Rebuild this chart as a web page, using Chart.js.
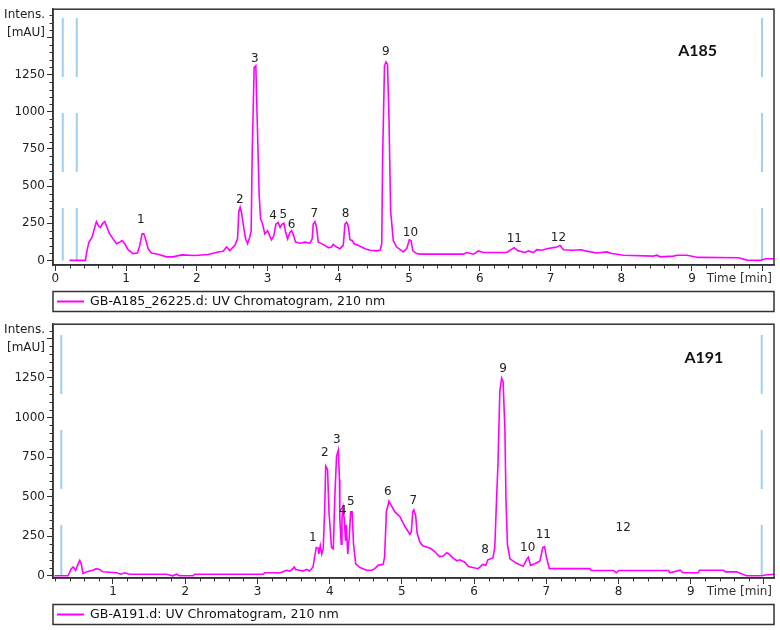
<!DOCTYPE html>
<html>
<head>
<meta charset="utf-8">
<script src="https://cdn.jsdelivr.net/npm/chart.js@4.4.1/dist/chart.umd.min.js"></script>
<style>
    html, body { margin: 0; padding: 0; background: #fff; }
    #contenedor { position: relative; width: 780px; height: 630px; }
    canvas { position: absolute; left: 0; }
    #grafico185 { top: 0; }
    #grafico191 { top: 315px; }
</style>
</head>
<body>
<div id="contenedor">
    <canvas id="grafico185" width="780" height="315"></canvas>
    <canvas id="grafico191" width="780" height="315"></canvas>
</div>
<script>
var a185Tiempo = [
    0.20, 0.425, 0.447, 0.475, 0.518, 0.556, 0.580, 0.608, 0.637, 0.665,
    0.698, 0.730, 0.768, 0.815, 0.863, 0.910, 0.942, 0.981, 1.027, 1.098,
    1.160, 1.193, 1.225, 1.249, 1.274, 1.310, 1.358, 1.452, 1.571, 1.664,
    1.783, 1.971, 2.159, 2.301, 2.372, 2.420, 2.466, 2.537, 2.575, 2.594,
    2.612, 2.632, 2.655, 2.689, 2.717, 2.750, 2.768, 2.782, 2.810, 2.834,
    2.853, 2.881, 2.901, 2.923, 2.962, 3.000, 3.028, 3.056, 3.089, 3.117,
    3.150, 3.178, 3.206, 3.231, 3.255, 3.283, 3.315, 3.339, 3.368, 3.396,
    3.457, 3.528, 3.598, 3.631, 3.645, 3.669, 3.693, 3.716, 3.787, 3.857,
    3.905, 3.928, 3.976, 4.023, 4.070, 4.094, 4.118, 4.140, 4.164, 4.197,
    4.225, 4.282, 4.330, 4.377, 4.447, 4.542, 4.594, 4.614, 4.627, 4.653,
    4.674, 4.695, 4.716, 4.740, 4.777, 4.825, 4.919, 4.967, 5.004, 5.028,
    5.052, 5.108, 5.155, 5.768, 5.816, 5.909, 5.980, 6.051, 6.382, 6.485,
    6.546, 6.641, 6.688, 6.758, 6.806, 6.877, 6.948, 7.041, 7.089, 7.136,
    7.183, 7.302, 7.443, 7.490, 7.655, 7.797, 7.868, 8.032, 8.456, 8.504,
    8.551, 8.739, 8.787, 8.929, 9.093, 9.659, 9.778, 9.966, 10.037, 10.17
];
var a185Intensidad = [
    0, 0, 68, 123, 156, 222, 261, 233, 222, 248,
    261, 222, 178, 145, 112, 123, 134, 112, 72, 46,
    50, 101, 178, 180, 145, 79, 50, 42, 24, 24,
    37, 33, 40, 57, 62, 90, 66, 101, 145, 332,
    358, 321, 244, 145, 112, 160, 200, 706, 1300, 1310,
    948, 442, 277, 255, 178, 200, 167, 139, 167, 244,
    255, 222, 244, 250, 189, 145, 189, 200, 167, 123,
    116, 123, 116, 145, 244, 261, 222, 123, 108, 86,
    90, 108, 90, 79, 101, 244, 257, 233, 139, 134,
    112, 101, 90, 79, 68, 64, 70, 114, 706, 1310,
    1335, 1320, 970, 332, 134, 90, 57, 79, 139, 134,
    66, 46, 42, 42, 53, 42, 64, 53, 53, 86,
    64, 53, 64, 53, 72, 68, 79, 86, 90, 101,
    72, 68, 72, 64, 50, 57, 46, 35, 29, 35,
    24, 29, 35, 35, 20, 18, 2, 0, 11, 11
];

var a191Tiempo = [
    0.19, 0.377, 0.424, 0.45, 0.483, 0.515, 0.54, 0.56, 0.585, 0.64,
    0.72, 0.77, 0.815, 0.86, 1.05, 1.11, 1.16, 1.23, 1.74, 1.83,
    1.88, 1.92, 2.11, 2.13, 3.08, 3.10, 3.31, 3.355, 3.40, 3.45,
    3.49, 3.51, 3.53, 3.585, 3.63, 3.68, 3.72, 3.77, 3.79, 3.815,
    3.84, 3.85, 3.87, 3.89, 3.91, 3.93, 3.945, 3.97, 3.99, 4.025,
    4.05, 4.07, 4.095, 4.12, 4.135, 4.14, 4.16, 4.17, 4.185, 4.20,
    4.22, 4.23, 4.25, 4.27, 4.29, 4.31, 4.33, 4.36, 4.42, 4.51,
    4.58, 4.625, 4.67, 4.74, 4.76, 4.785, 4.82, 4.85, 4.90, 4.97,
    5.04, 5.11, 5.13, 5.15, 5.165, 5.19, 5.21, 5.25, 5.29, 5.36,
    5.40, 5.45, 5.52, 5.57, 5.62, 5.65, 5.70, 5.76, 5.80, 5.87,
    5.92, 6.055, 6.12, 6.16, 6.19, 6.26, 6.285, 6.31, 6.33, 6.355,
    6.38, 6.40, 6.425, 6.44, 6.46, 6.495, 6.56, 6.60, 6.68, 6.73,
    6.75, 6.78, 6.84, 6.91, 6.95, 6.975, 7.00, 7.04, 7.60, 7.62,
    7.93, 7.97, 8.00, 8.69, 8.71, 8.85, 8.89, 9.10, 9.12, 9.45,
    9.48, 9.63, 9.77, 9.98, 10.03, 10.16
];
var a191Intensidad = [
    0, 0, 45, 56, 35, 72, 97, 76, 15, 25,
    35, 45, 40, 25, 19, 10, 19, 10, 10, 0,
    10, 0, 0, 10, 10, 19, 19, 25, 35, 30,
    45, 56, 40, 35, 30, 40, 30, 56, 117, 179,
    175, 138, 190, 138, 170, 405, 693, 672, 405, 179,
    170, 487, 755, 796, 610, 364, 200, 364, 425, 364,
    220, 323, 138, 240, 405, 405, 200, 76, 52, 35,
    35, 45, 66, 72, 117, 405, 471, 446, 405, 375,
    313, 262, 280, 405, 416, 380, 270, 210, 190, 179,
    172, 155, 121, 125, 146, 138, 115, 95, 101, 86,
    58, 45, 72, 66, 101, 113, 179, 487, 714, 1166,
    1249, 1228, 930, 487, 200, 107, 86, 76, 60, 107,
    117, 66, 76, 93, 179, 183, 117, 45, 45, 33,
    33, 19, 33, 33, 19, 35, 19, 19, 35, 35,
    25, 25, 0, 0, 5, 10
];

// Etiquetas de picos (posicion del numero en tiempo / intensidad)
var nombresPicos = ['1', '2', '3', '4', '5', '6', '7', '8', '9', '10', '11', '12'];
var a185PicoTiempo = [1.207, 2.608, 2.820, 3.079, 3.221, 3.339, 3.659, 4.104, 4.670, 5.020, 6.489, 7.112];
var a185PicoIntensidad = [273, 405, 1359, 299, 306, 240, 314, 310, 1406, 182, 147, 154];
var a191PicoTiempo = [3.767, 3.933, 4.099, 4.182, 4.293, 4.806, 5.156, 6.150, 6.399, 6.741, 6.957, 8.062];
var a191PicoIntensidad = [239, 776, 856, 411, 467, 530, 473, 165, 1306, 177, 257, 300];

// Marcas verticales azules (min)
var a185Marcas = [0.104, 0.302, 9.99];
var a191Marcas = [0.285, 9.98];

function esEntero(v) {
    return Math.abs(v - Math.round(v)) < 1e-6;
}

function esMayorY(v) {
    return Math.abs(v % 250) < 1e-6;
}

// Crea un cromatograma con su marco, etiquetas y caja de leyenda
function crearCromatograma(idCanvas, cfg) {
    var ctx = document.getElementById(idCanvas).getContext('2d');
    var puntos = cfg.tiempos.map(function (t, i) {
        return { x: t, y: cfg.intensidades[i] };
    });

    var datasets = [{
        label: cfg.leyenda,
        data: puntos,
        borderColor: '#ff00ff',
        borderWidth: 1.6,
        pointRadius: 0,
        tension: 0
    }];
    cfg.marcas.forEach(function (m) {
        datasets.push({
            label: '',
            data: [{ x: m, y: cfg.marcaTope }, { x: m, y: 0 }],
            borderColor: '#9fcff2',
            borderWidth: 2,
            borderDash: [59, 36],
            pointRadius: 0
        });
    });

    var fuente = 'DejaVu Sans';

    var pluginCromatograma = {
        id: 'cromatograma',
        afterDraw: function (chart) {
            var c = chart.ctx;
            var area = chart.chartArea;
            var xs = chart.scales.x;
            var ys = chart.scales.y;
            c.save();

            // Marcas menores de los ejes
            c.strokeStyle = '#333';
            c.lineWidth = 1;
            c.beginPath();
            xs.ticks.forEach(function (t) {
                if (!esEntero(t.value)) {
                    var px = Math.round(xs.getPixelForValue(t.value)) + 0.5;
                    c.moveTo(px, area.bottom);
                    c.lineTo(px, area.bottom + 3.5);
                }
            });
            ys.ticks.forEach(function (t) {
                if (!esMayorY(t.value)) {
                    var py = Math.round(ys.getPixelForValue(t.value)) + 0.5;
                    c.moveTo(area.left, py);
                    c.lineTo(area.left - 3.5, py);
                }
            });
            c.stroke();

            // Marco del area de trazado
            c.strokeStyle = '#333';
            c.lineWidth = 1.5;
            c.strokeRect(area.left, area.top, area.right - area.left, area.bottom - area.top);

            // Numeros de los picos
            c.fillStyle = '#222';
            c.font = '12px "' + fuente + '"';
            c.textAlign = 'center';
            c.textBaseline = 'middle';
            cfg.picoTiempo.forEach(function (t, i) {
                c.fillText(nombresPicos[i], xs.getPixelForValue(t), ys.getPixelForValue(cfg.picoIntensidad[i]));
            });

            // Nombre de la muestra
            c.fillStyle = '#111';
            c.font = 'bold 16px Lato';
            c.fillText(cfg.muestra, xs.getPixelForValue(cfg.muestraEn[0]), ys.getPixelForValue(cfg.muestraEn[1]));

            // Titulos de los ejes
            c.font = '12px "' + fuente + '"';
            c.fillStyle = '#222';
            c.textAlign = 'right';
            c.fillText('Intens.', area.left - 8, area.top + 6);
            c.fillText('[mAU]', area.left - 8, area.top + 24);
            c.fillStyle = '#333';
            c.fillText('Time [min]', area.right - 2, area.bottom + 14);

            // Caja de leyenda
            var ds = chart.data.datasets[0];
            var arriba = area.bottom + 26.5;
            c.strokeStyle = '#333';
            c.lineWidth = 1.5;
            c.strokeRect(area.left, arriba, area.right - area.left, 20);
            c.strokeStyle = ds.borderColor;
            c.lineWidth = 2;
            c.beginPath();
            c.moveTo(area.left + 4, arriba + 10);
            c.lineTo(area.left + 31, arriba + 10);
            c.stroke();
            c.fillStyle = '#111';
            c.textAlign = 'left';
            c.font = '12.6px "' + fuente + '"';
            c.fillText(ds.label, area.left + 37, arriba + 10.5);

            c.restore();
        }
    };

    return new Chart(ctx, {
        type: 'line',
        data: { datasets: datasets },
        options: {
            responsive: false,
            animation: false,
            layout: {
                padding: { left: 0, top: 4, right: 6, bottom: cfg.margenInferior }
            },
            scales: {
                x: {
                    type: 'linear',
                    min: cfg.xMin,
                    max: cfg.xMax,
                    afterFit: function (s) { s.height = 25; },
                    ticks: {
                        stepSize: 0.2,
                        autoSkip: false,
                        includeBounds: false,
                        maxRotation: 0,
                        minRotation: 0,
                        padding: 1,
                        color: '#222',
                        font: { family: fuente, size: 12 },
                        callback: function (v) {
                            return esEntero(v) && v <= 9 ? String(Math.round(v)) : '';
                        }
                    },
                    grid: {
                        drawOnChartArea: false,
                        tickLength: 6,
                        tickColor: function (c) {
                            return esEntero(c.tick.value) ? '#333' : 'rgba(0,0,0,0)';
                        }
                    },
                    border: { color: '#333', width: 1.5 }
                },
                y: {
                    min: cfg.yMin,
                    max: cfg.yMax,
                    afterFit: function (s) { s.width = 53; },
                    ticks: {
                        stepSize: 50,
                        autoSkip: false,
                        includeBounds: false,
                        padding: 2,
                        color: '#222',
                        font: { family: fuente, size: 12 },
                        callback: function (v) {
                            return esMayorY(v) && v <= 1250 ? String(v) : '';
                        }
                    },
                    grid: {
                        drawOnChartArea: false,
                        tickLength: 6,
                        tickColor: function (c) {
                            return esMayorY(c.tick.value) ? '#333' : 'rgba(0,0,0,0)';
                        }
                    },
                    border: { color: '#333', width: 1.5 }
                }
            },
            plugins: {
                legend: { display: false },
                tooltip: { enabled: false }
            }
        },
        plugins: [pluginCromatograma]
    });
}

crearCromatograma('grafico185', {
    tiempos: a185Tiempo,
    intensidades: a185Intensidad,
    picoTiempo: a185PicoTiempo,
    picoIntensidad: a185PicoIntensidad,
    marcas: a185Marcas,
    marcaTope: 1632,
    leyenda: 'GB-A185_26225.d: UV Chromatogram, 210 nm',
    muestra: 'A185',
    muestraEn: [9.08, 1414],
    xMin: -0.034, xMax: 10.16,
    yMin: -31, yMax: 1691,
    margenInferior: 25
});

crearCromatograma('grafico191', {
    tiempos: a191Tiempo,
    intensidades: a191Intensidad,
    picoTiempo: a191PicoTiempo,
    picoIntensidad: a191PicoIntensidad,
    marcas: a191Marcas,
    marcaTope: 1522,
    leyenda: 'GB-A191.d: UV Chromatogram, 210 nm',
    muestra: 'A191',
    muestraEn: [9.18, 1380],
    xMin: 0.17, xMax: 10.15,
    yMin: -14, yMax: 1590,
    margenInferior: 27
});
</script>
</body>
</html>
